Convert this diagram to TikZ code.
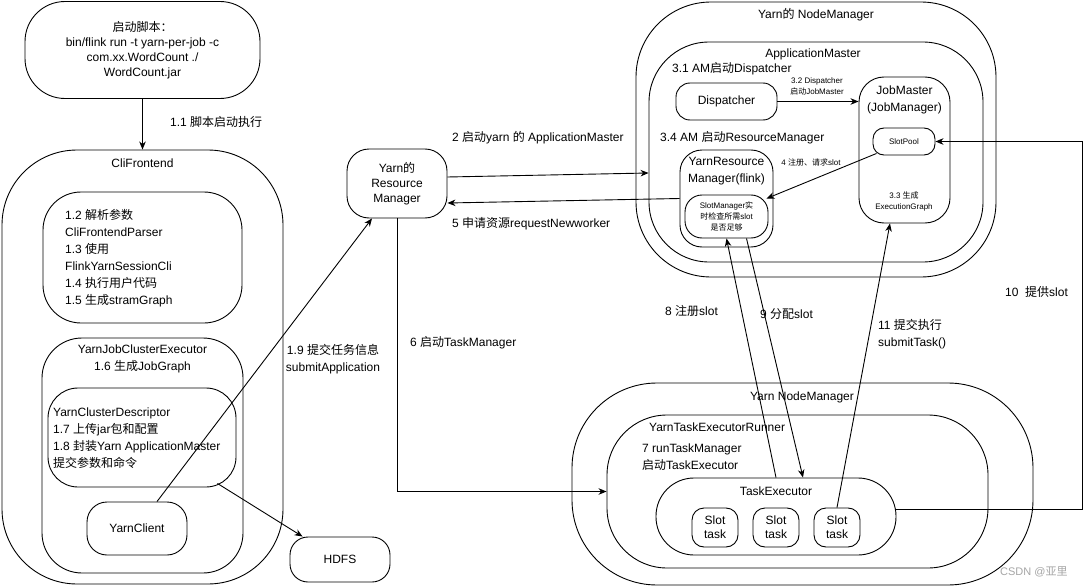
\documentclass[tikz,border=0pt]{standalone}
\usepackage{fontspec}
\setmainfont{Liberation Sans}
\newfontfamily\cjkfam{Noto Sans CJK SC}
\newcommand{\zhtxt}[1]{{\cjkfam #1}}
\usetikzlibrary{arrows.meta,calc}
\begin{document}
\begin{tikzpicture}[x=1pt,y=-1pt,
  rbox/.style={draw, line width=0.9pt, rounded corners=#1, inner sep=0pt},
  txt/.style={inner sep=0pt, font=\fontsize{12}{15}\selectfont},
  txtb/.style={inner sep=0pt, font=\fontsize{12}{17}\selectfont},
  small/.style={inner sep=0pt, font=\fontsize{8}{11}\selectfont, align=center},
  arr/.style={draw, line width=0.9pt, -{Stealth[length=8pt,width=6.5pt,inset=2.5pt]}}]
\fill[white] (0,0) rectangle (1085,586);
\useasboundingbox (0,0) rectangle (1085,586);

% ---------- left column ----------
\node[rbox=40pt, minimum width=235pt, minimum height=97pt, txt, align=center] (script) at (142.5,50)
  {\zhtxt{启动脚本：}\\bin/flink run -t yarn-per-job -c\\com.xx.WordCount ./\\WordCount.jar};
\node[rbox=75pt, minimum width=281pt, minimum height=434pt] (cli) at (142.5,367) {};
\node[txt] (clit) at (142.5,163) {CliFrontend};
\node[rbox=38pt, minimum width=199pt, minimum height=131pt] (parse) at (142.5,257.5) {};
\node[txtb, align=left, anchor=west] (parset) at (65,258)
  {1.2 \zhtxt{解析参数}\\CliFrontendParser\\1.3 \zhtxt{使用}\\FlinkYarnSessionCli\\1.4 \zhtxt{执行用户代码}\\1.5 \zhtxt{生成}stramGraph};
\node[rbox=40pt, minimum width=201pt, minimum height=235pt] (yjce) at (142.5,455.5) {};
\node[txtb, align=center] (yjcet) at (142.5,358.5) {YarnJobClusterExecutor\\1.6 \zhtxt{生成}JobGraph};
\node[rbox=30pt, minimum width=188pt, minimum height=99pt] (ycd) at (142,437.5) {};
\node[txtb, align=left, anchor=west] (ycdt) at (53,438)
  {YarnClusterDescriptor\\1.7 \zhtxt{上传}jar\zhtxt{包和配置}\\1.8 \zhtxt{封装}Yarn ApplicationMaster\\\zhtxt{提交参数和命令}};
\node[rbox=20pt, minimum width=100pt, minimum height=53pt, txt] (yc) at (137,528.5) {YarnClient};
\node[rbox=18pt, minimum width=100pt, minimum height=45pt, txt] (hdfs) at (340,559.5) {HDFS};
\node[rbox=22pt, minimum width=100pt, minimum height=69pt, txt, align=center] (rm) at (397,183.5)
  {Yarn\zhtxt{的}\\Resource\\Manager};

% ---------- top right ----------
\node[rbox=75pt, minimum width=360pt, minimum height=275pt] (nm1) at (816,139.5) {};
\node[txt] (nm1t) at (816,15) {Yarn\zhtxt{的} NodeManager};
\node[rbox=60pt, minimum width=334pt, minimum height=220pt] (am) at (816,152) {};
\node[txt] (amt) at (813,54) {ApplicationMaster};
\node[txt, anchor=west] (s31) at (672,69) {3.1 AM\zhtxt{启动}Dispatcher};
\node[rbox=14pt, minimum width=101pt, minimum height=37pt, txt] (disp) at (726.5,101.5) {Dispatcher};
\node[rbox=25pt, minimum width=91pt, minimum height=146pt] (jm) at (904.5,150) {};
\node[txtb, align=center] (jmt) at (904.5,99.5) {JobMaster\\(JobManager)};
\node[rbox=11pt, minimum width=62pt, minimum height=27pt, small] (sp) at (904,141.5) {SlotPool};
\node[small] (s33) at (904,201.5) {3.3 \zhtxt{生成}\\ExecutionGraph};
\node[txt, anchor=west] (s34) at (660,138) {3.4 AM \zhtxt{启动}ResourceManager};
\node[rbox=22pt, minimum width=93pt, minimum height=97pt] (yrm) at (726.5,198.5) {};
\node[txtb, align=center] (yrmt) at (726.5,171.5) {YarnResource\\Manager(flink)};
\node[rbox=17pt, minimum width=83pt, minimum height=43pt, small] (sm) at (726.5,216.5)
  {SlotManager\zhtxt{实}\\\zhtxt{时检查所需}slot\\\zhtxt{是否足够}};
\node[small] (l32) at (817,86.5) {3.2 Dispatcher\\\zhtxt{启动}JobMaster};
\node[small] (l4) at (811,162) {4 \zhtxt{注册、请求}slot};

% ---------- bottom right ----------
\node[rbox=85pt, minimum width=461pt, minimum height=202pt] (nm2) at (802.5,484) {};
\node[txt] (nm2t) at (802,397) {Yarn NodeManager};
\node[rbox=60pt, minimum width=381pt, minimum height=153pt] (ter) at (797.5,491.5) {};
\node[txt, anchor=west] (tert) at (649,427) {YarnTaskExecutorRunner};
\node[txtb, align=left, anchor=west] (l7) at (642,457.5) {7 runTaskManager\\\zhtxt{启动}TaskExecutor};
\node[rbox=38pt, minimum width=240pt, minimum height=77pt] (te) at (776,516.5) {};
\node[txt] (tet) at (776,491) {TaskExecutor};
\node[rbox=12pt, minimum width=46pt, minimum height=39pt, inner sep=0pt, align=center, font=\fontsize{12}{14}\selectfont] (s1) at (715,527.5) {Slot\\task};
\node[rbox=12pt, minimum width=46pt, minimum height=39pt, inner sep=0pt, align=center, font=\fontsize{12}{14}\selectfont] (s2) at (776,527.5) {Slot\\task};
\node[rbox=12pt, minimum width=46pt, minimum height=39pt, inner sep=0pt, align=center, font=\fontsize{12}{14}\selectfont] (s3) at (837,527.5) {Slot\\task};

% ---------- connectors ----------
\draw[arr] (script.south) -- (cli.north);
\node[txt, anchor=west] (l11) at (170,122) {1.1 \zhtxt{脚本启动执行}};
\draw[arr] ([xshift=-19pt,yshift=4pt]ycd.south east) -- ([xshift=13pt]hdfs.north west);
\draw[arr] ([xshift=20pt]yc.north) -- ([xshift=-25pt]rm.south);
\node[txtb, align=center] (l19) at (333,359) {1.9 \zhtxt{提交任务信息}\\submitApplication};
\draw[arr] (rm.south) |- (ter.west);
\node[txt, anchor=west] (l6) at (410,343) {6 \zhtxt{启动}TaskManager};
\draw[arr] ([yshift=6.5pt]rm.east) -- ([yshift=-21pt]am.west);
\node[txt, anchor=west] (l2) at (452,138) {2 \zhtxt{启动}yarn \zhtxt{的} ApplicationMaster};
\draw[arr] (yrm.west) -- ([yshift=-19.5pt]rm.east);
\node[txt, anchor=west] (l5) at (452,224) {5 \zhtxt{申请资源}requestNewworker};
\draw[arr] (disp.east) -- (disp.east -| jm.west);
\draw[arr] ([xshift=4pt,yshift=2pt]sp.south west) -- ([xshift=-2pt,yshift=-4pt]sm.north east);
\draw[arr] (te.north) -- (sm.south);
\draw[arr] ([xshift=20pt]sm.south) -- ([xshift=27pt]te.north);
\draw[arr] (s3.north) -- ([xshift=-14.5pt]jm.south);
\coordinate (r10) at (1082,509.5);
\draw[arr] ([yshift=7pt]te.east) -- (r10) |- (sp.east);
\node[txt, anchor=west] (l8) at (665,311) {8 \zhtxt{注册}slot};
\node[txt, anchor=west] (l9) at (760,314) {9 \zhtxt{分配}slot};
\node[txt, anchor=west] (l10) at (1005,292) {10\ \ \zhtxt{提供}slot};
\node[txtb, align=left, anchor=west] (l11b) at (878,334) {11 \zhtxt{提交执行}\\submitTask()};
\node[inner sep=0pt, font=\fontsize{11}{13}\selectfont, text=black!35, anchor=west] (wm) at (1000,572) {CSDN @\zhtxt{亚里}};
\end{tikzpicture}
\end{document}
